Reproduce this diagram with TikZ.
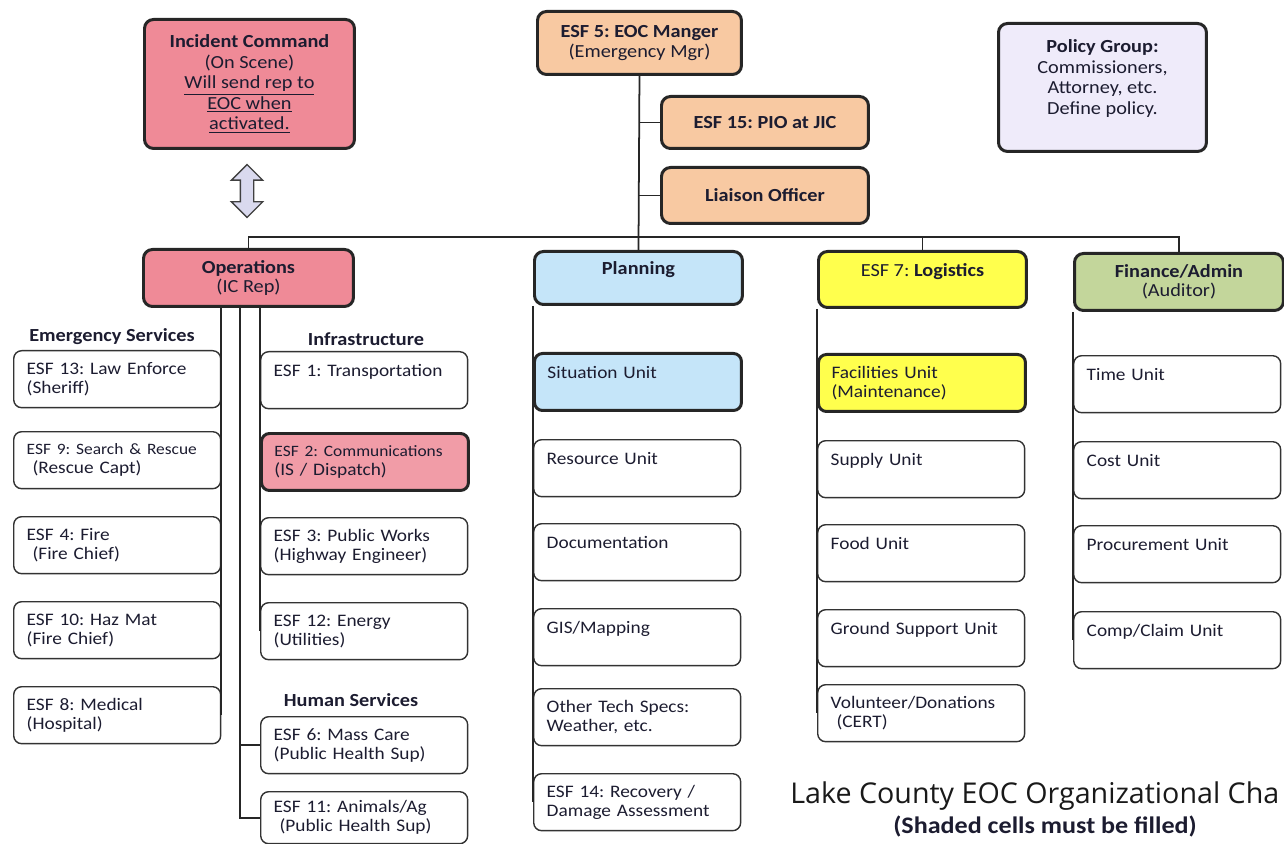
\documentclass[tikz,border=0pt]{standalone}
\usepackage{fontspec}
\setmainfont{Carlito}[FakeStretch=1.1]
\newfontfamily\titlefont{Open Sans}
\usetikzlibrary{shapes.arrows}
\frenchspacing
\hyphenpenalty=10000
\exhyphenpenalty=10000
\definecolor{ink}{RGB}{28,28,48}
\definecolor{icpink}{RGB}{239,138,151}
\definecolor{mgrtan}{RGB}{248,201,162}
\definecolor{policylav}{RGB}{239,235,250}
\definecolor{planblue}{RGB}{197,229,249}
\definecolor{logyellow}{RGB}{255,255,77}
\definecolor{fingreen}{RGB}{195,214,155}
\definecolor{arrowlav}{RGB}{217,217,238}
\newcommand{\narrow}[1]{\mbox{\fontsize{9}{10.8}\selectfont #1}}
\tikzset{
	unit/.style={draw=black!80, line width=0.8pt, rounded corners=0.16cm, anchor=north west, text width=3.62cm, inner xsep=0.26cm, minimum height=1.14cm, align=left, text=ink, font=\fontsize{10}{10.8}\selectfont},
	shaded/.style={unit, draw=black!85, line width=1.7pt},
	head/.style={draw=black!85, line width=1.7pt, rounded corners=0.18cm, anchor=north west, align=center, text=ink, inner xsep=0.1cm, font=\fontsize{10.5}{10.8}\selectfont},
	tall/.style={font=\fontsize{10.5}{11.7}\selectfont},
	group/.style={anchor=center, text=ink, font=\bfseries\fontsize{10.5}{10.8}\selectfont},
	dblarrow/.style={shape=double arrow, rotate=90, draw=black!75, line width=0.8pt, fill=arrowlav, minimum height=1.06cm, minimum width=0.6cm, double arrow head extend=0.18cm, inner sep=0.12cm},
	link/.style={draw=black!85, line width=1pt}
}

\begin{document}
\begin{tikzpicture}[x=0.02cm, y=-0.02cm]
	\useasboundingbox (0,0) rectangle (1284,844);

	\node[head, tall, fill=icpink, minimum width=4.2cm, minimum height=2.58cm] (ic) at (143,18) {\textbf{Incident Command}\\(On Scene)\\\underline{Will send rep to}\\\underline{EOC when}\\\underline{activated.}};
	\node[head, tall, fill=mgrtan, minimum width=4.08cm, minimum height=1.26cm] (eoc) at (536,10) {\textbf{ESF 5: EOC Manger}\\(Emergency Mgr)};
	\node[head, fill=mgrtan, minimum width=4.14cm, minimum height=1.04cm] (pio) at (660,95) {\textbf{ESF 15: PIO at JIC}};
	\node[head, fill=mgrtan, minimum width=4.14cm, minimum height=1.12cm] (liaison) at (660,166) {\textbf{Liaison Officer}};
	\node[head, tall, fill=policylav, minimum width=4.16cm, minimum height=2.56cm] (policy) at (997,22) {\textbf{Policy Group:}\\Commissioners,\\Attorney, etc.\\Define policy.\\~};
	\node[dblarrow] (icops) at (247,191) {};

	\node[head, fill=icpink, minimum width=4.2cm, minimum height=1.14cm] (ops) at (142,248) {\textbf{Operations}\\(IC Rep)};
	\node[head, fill=planblue, minimum width=4.16cm, minimum height=1.06cm] (plan) at (533,250) {\textbf{Planning}\\~};
	\node[head, fill=logyellow, minimum width=4.16cm, minimum height=1.12cm] (logi) at (817,250) {ESF 7: \textbf{Logistics}\\~};
	\node[head, fill=fingreen, minimum width=4.18cm, minimum height=1.14cm] (fin) at (1073,252) {\textbf{Finance/Admin}\\(Auditor)};

	\node[group] (emerg) at (112,337) {Emergency Services};
	\node[unit] (esf13) at (13,350) {ESF 13: Law Enforce\\(Sheriff)};
	\node[unit] (esf9) at (13,431) {\narrow{ESF 9: Search \& Rescue}\\~(Rescue Capt)};
	\node[unit] (esf4) at (13,516) {ESF 4: Fire\\~(Fire Chief)};
	\node[unit] (esf10) at (13,601) {ESF 10: Haz Mat\\(Fire Chief)};
	\node[unit] (esf8) at (13,686) {ESF 8: Medical\\(Hospital)};

	\node[group] (infra) at (366,339) {Infrastructure};
	\node[unit] (esf1) at (260,351) {ESF 1: Transportation\\~};
	\node[shaded, fill=icpink!85] (esf2) at (260,432) {\narrow{ESF 2: Communications}\\(IS / Dispatch)};
	\node[unit] (esf3) at (260,517) {ESF 3: Public Works\\(Highway Engineer)};
	\node[unit] (esf12) at (260,602) {ESF 12: Energy\\(Utilities)};
	\node[group] (human) at (351,700) {Human Services};
	\node[unit] (esf6) at (260,716) {ESF 6: Mass Care\\(Public Health Sup)};
	\node[unit, minimum height=1.04cm] (esf11) at (260,791) {ESF 11: Animals/Ag\\~(Public Health Sup)};

	\node[shaded, fill=planblue] (situ) at (533,352) {Situation Unit\\~};
	\node[unit] (resu) at (533,439) {Resource Unit\\~};
	\node[unit] (docu) at (533,523) {Documentation\\~};
	\node[unit] (gis) at (533,608) {GIS/Mapping\\~};
	\node[unit] (tech) at (533,688) {Other Tech Specs:\\Weather, etc.};
	\node[unit] (esf14) at (533,773) {ESF 14: Recovery /\\Damage Assessment};

	\node[shaded, fill=logyellow] (faci) at (817,353) {Facilities Unit\\(Maintenance)};
	\node[unit] (supp) at (817,440) {Supply Unit\\~};
	\node[unit] (food) at (817,524) {Food Unit\\~};
	\node[unit] (grnd) at (817,609) {Ground Support Unit\\~};
	\node[unit] (volu) at (817,684) {Volunteer/Donations\\~(CERT)};

	\node[unit] (time) at (1073,355) {Time Unit\\~};
	\node[unit] (cost) at (1073,441) {Cost Unit\\~};
	\node[unit] (proc) at (1073,525) {Procurement Unit\\~};
	\node[unit] (comp) at (1073,611) {Comp/Claim Unit\\~};

	\node[anchor=base west, text=black!90, font=\titlefont\fontsize{16.3}{19}\selectfont, inner sep=0pt] (title) at (790,803) {Lake County EOC Organizational Cha};
	\node[anchor=center, text=ink, font=\bfseries\fontsize{13.5}{15}\selectfont] (note) at (1045,826) {(Shaded cells must be filled)};

	\coordinate (bar) at (0,237);
	\coordinate (hstrunk) at (240,305);
	\draw[link] (ops.north) -- (ops.north |- bar) -- (fin.north |- bar) -- (fin.north);
	\draw[link] (eoc.south) -- (plan.north);
	\draw[link] (logi.north) -- (logi.north |- bar);
	\draw[link] (eoc.south |- pio.west) -- (pio.west);
	\draw[link] (eoc.south |- liaison.west) -- (liaison.west);
	\draw[link] (ops.south -| esf13.east) -- (esf8.east);
	\draw[link] (ops.south -| esf1.west) -- (esf12.west);
	\draw[link] (hstrunk) |- (esf11.west);
	\draw[link] (hstrunk |- esf6.west) -- (esf6.west);
	\draw[link] (plan.south west) -- (esf14.west);
	\draw[link] (logi.south west) -- (volu.west);
	\draw[link] (fin.south west) -- (comp.west);
\end{tikzpicture}
\end{document}
